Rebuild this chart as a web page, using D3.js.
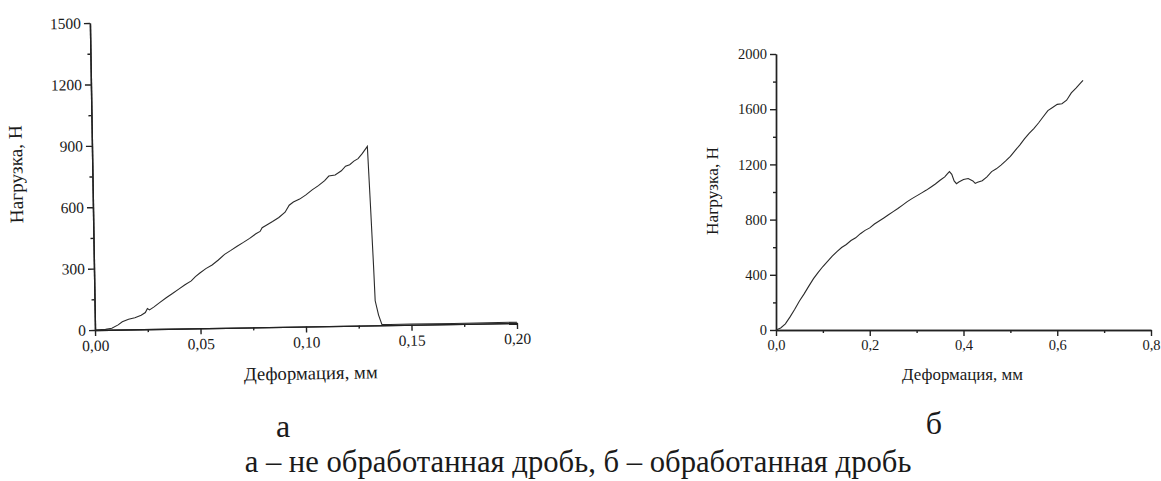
<!DOCTYPE html>
<html><head><meta charset="utf-8">
<script src="https://cdn.jsdelivr.net/npm/d3@7"></script>
<style>html,body{margin:0;padding:0;background:#fff;}</style></head>
<body><svg id="c" width="1161" height="481"></svg>
<script>
// ---- data: panel а (untreated shot) ----
const aDeform = [0,0.005,0.008,0.011,0.013,0.016,0.019,0.022,0.024,0.025,0.026,0.028,0.031,0.034,0.037,0.040,0.043,0.046,0.048,0.050,0.053,0.056,0.059,0.062,0.065,0.068,0.071,0.074,0.077,0.079,0.080,0.082,0.085,0.088,0.091,0.093,0.095,0.098,0.101,0.104,0.107,0.110,0.112,0.115,0.118,0.120,0.122,0.124,0.126,0.128,0.1305,0.1315,0.1325,0.133,0.1345,0.136,0.140,0.150,0.170,0.200];
const aLoad   = [0,2,7,23,38,50,57,68,81,101,94,107,130,152,172,193,214,232,253,269,291,308,332,359,378,398,416,435,457,468,486,498,516,535,560,594,609,623,643,667,687,711,733,738,758,780,787,804,816,840,875,590,290,120,50,4,3,4,3,4];
// ---- data: panel б (treated shot) ----
const bDeform = [0,0.01,0.02,0.03,0.04,0.05,0.06,0.07,0.08,0.09,0.10,0.11,0.12,0.13,0.14,0.15,0.16,0.17,0.18,0.19,0.20,0.21,0.22,0.23,0.24,0.25,0.26,0.27,0.28,0.29,0.30,0.31,0.32,0.33,0.34,0.35,0.36,0.365,0.37,0.375,0.38,0.385,0.39,0.40,0.41,0.42,0.425,0.43,0.44,0.45,0.46,0.47,0.48,0.49,0.50,0.51,0.52,0.53,0.54,0.55,0.56,0.57,0.58,0.59,0.60,0.61,0.62,0.63,0.64,0.65,0.655];
const bLoad   = [0,15,45,95,150,210,262,318,372,418,460,498,535,568,598,620,648,668,698,722,740,768,790,812,835,858,880,905,930,952,972,992,1012,1035,1058,1085,1110,1130,1148,1128,1080,1060,1072,1090,1098,1080,1062,1070,1082,1110,1148,1168,1195,1225,1258,1300,1340,1385,1425,1460,1500,1545,1590,1612,1635,1640,1665,1718,1752,1790,1808];
// ---- ticks ----
const aXTicks = [0,0.05,0.10,0.15,0.20], aXMinor = [0.025,0.075,0.125,0.175];
const aYTicks = [0,300,600,900,1200,1500], aYMinor = [150,450,750,1050,1350];
const bXTicks = [0,0.2,0.4,0.6,0.8], bXMinor = [0.1,0.3,0.5,0.7];
const bYTicks = [0,400,800,1200,1600,2000], bYMinor = [200,600,1000,1400,1800];
const yTitle = "Нагрузка, Н", xTitle = "Деформация, мм";
const panelLabels = ["а","б"];
const caption = "а – не обработанная дробь, б – обработанная дробь";

const svg = d3.select("#c");
const FONT = "Liberation Serif";

function fit(sel, w){
  sel.each(function(){
    const fs = parseFloat(this.getAttribute("font-size"));
    const L = this.getComputedTextLength();
    if (L > 0) this.setAttribute("font-size", (fs*w/L).toFixed(2));
  });
}
function txt(parent){ return parent.append("text").style("font-family",FONT).attr("fill","#1a1a1a"); }

function panel(g, cfg){
  const x = d3.scaleLinear().domain(cfg.xd).range([cfg.x0, cfg.x1]);
  const y = d3.scaleLinear().domain(cfg.yd).range([cfg.y0, cfg.y1]);
  const axes = [
    g.append("g").attr("transform",`translate(0,${cfg.y0})`)
      .call(d3.axisBottom(x).tickValues(cfg.xm).tickSize(3).tickFormat("").tickSizeOuter(0)),
    g.append("g").attr("transform",`translate(${cfg.x0},0)`)
      .call(d3.axisLeft(y).tickValues(cfg.ym).tickSize(3).tickFormat("").tickSizeOuter(0)),
    g.append("g").attr("transform",`translate(0,${cfg.y0})`)
      .call(d3.axisBottom(x).tickValues(cfg.xt).tickSize(6).tickPadding(4).tickSizeOuter(0).tickFormat(cfg.xf)),
    g.append("g").attr("transform",`translate(${cfg.x0},0)`)
      .call(d3.axisLeft(y).tickValues(cfg.yt).tickSize(6).tickPadding(3).tickSizeOuter(0).tickFormat(d=>d))
  ];
  axes.forEach(a => a.attr("font-family", null).attr("font-size", null));
  g.selectAll(".domain, .tick line").attr("stroke","#222").attr("stroke-width",1.4);
  g.selectAll(".tick text").style("font-family",FONT).attr("font-size",cfg.tf).attr("fill","#1a1a1a");
  const line = d3.line().x((d,i)=>x(cfg.xs[i])).y(d=>y(d));
  g.append("path").datum(cfg.ys).attr("d",line).attr("fill","none").attr("stroke","#2a2a2a").attr("stroke-width",1.1);
  txt(g).attr("x",(cfg.x0+cfg.x1)/2+cfg.xtdx).attr("y",cfg.xty).attr("text-anchor","middle").attr("font-size",cfg.tt).text(xTitle).call(fit,cfg.xtw);
  txt(g).attr("transform",`translate(${cfg.ytx},${cfg.yty}) rotate(-90)`).attr("text-anchor","middle").attr("font-size",cfg.tt).text(yTitle).call(fit,cfg.ytw);
}

const gA = svg.append("g").attr("transform","rotate(-0.95,95,330)");
panel(gA,{xd:[0,0.2],yd:[0,1500],x0:95,x1:517,y0:330,y1:23,xs:aDeform,ys:aLoad,
  xt:aXTicks,xm:aXMinor,yt:aYTicks,ym:aYMinor,xf:d=>d3.format(".2f")(d).replace(".",","),
  tf:15.5,tt:20,xtdx:4,xty:383,xtw:134,ytx:25,yty:173,ytw:98});
const gB = svg.append("g");
panel(gB,{xd:[0,0.8],yd:[0,2000],x0:776,x1:1151,y0:330,y1:54,xs:bDeform,ys:bLoad,
  xt:bXTicks,xm:bXMinor,yt:bYTicks,ym:bYMinor,xf:d=>d3.format(".1f")(d).replace(".",","),
  tf:14.5,tt:18,xtdx:-1,xty:380,xtw:121,ytx:718,yty:191,ytw:88});

txt(svg).attr("x",283).attr("y",437).attr("text-anchor","middle").attr("font-size",32).text(panelLabels[0]);
txt(svg).attr("x",934).attr("y",434).attr("text-anchor","middle").attr("font-size",32).text(panelLabels[1]);
txt(svg).attr("x",578).attr("y",472).attr("text-anchor","middle").attr("font-size",26).text(caption).call(fit,667);
</script></body></html>
